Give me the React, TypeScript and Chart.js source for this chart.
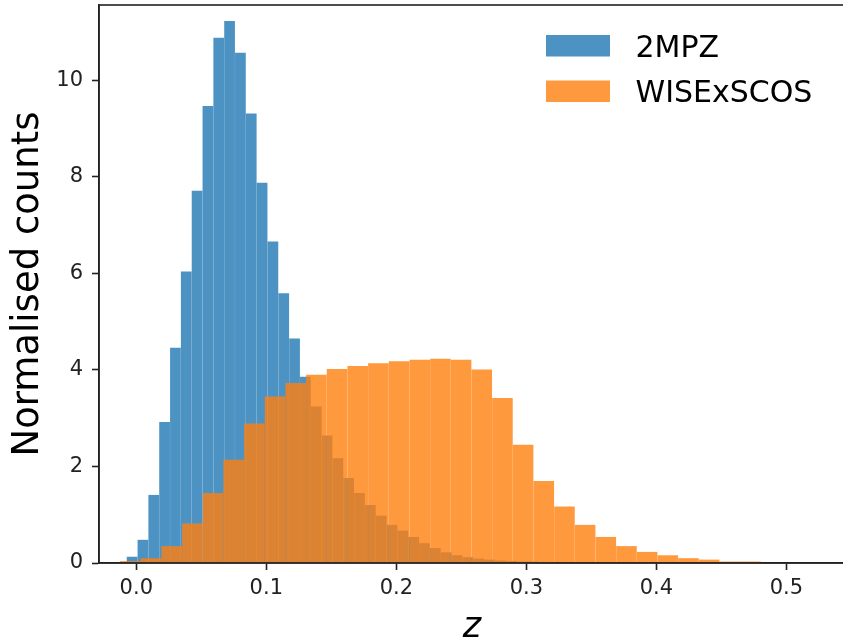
import React, { useEffect, useRef } from 'react';
import { Chart, registerables } from 'chart.js';

Chart.register(...registerables);

// ---- data ----
const SERIES_LABELS = ['2MPZ', 'WISExSCOS'];

// 2MPZ histogram: bin centres (z) and normalised counts
const MPZ_CENTERS = [
  -0.003235, 0.005095, 0.013425, 0.021755, 0.030085, 0.038415, 0.046745, 0.055075,
  0.063405, 0.071735, 0.080065, 0.088395, 0.096725, 0.105055, 0.113385, 0.121715,
  0.130045, 0.138375, 0.146705, 0.155035, 0.163365, 0.171695, 0.180025, 0.188355,
  0.196685, 0.205015, 0.213345, 0.221675, 0.230005, 0.238335, 0.246665, 0.254995,
  0.263325, 0.271655, 0.279985, 0.288315, 0.296645, 0.304975, 0.313305,
];
const MPZ_VALUES = [
  0.13, 0.48, 1.41, 2.92, 4.46, 6.04, 7.71, 9.47,
  10.88, 11.23, 10.57, 9.31, 7.88, 6.66, 5.59, 4.65,
  3.86, 3.24, 2.64, 2.17, 1.76, 1.45, 1.2, 0.98,
  0.79, 0.67, 0.54, 0.41, 0.31, 0.22, 0.16, 0.12,
  0.09, 0.07, 0.05, 0.04, 0.03, 0.03, 0.02,
];

// WISExSCOS histogram: bin centres (z) and normalised counts
const WXS_CENTERS = [
  -0.00459, 0.01131, 0.02721, 0.04311, 0.05901, 0.07491, 0.09081, 0.10671,
  0.12261, 0.13851, 0.15441, 0.17031, 0.18621, 0.20211, 0.21801, 0.23391,
  0.24981, 0.26571, 0.28161, 0.29751, 0.31341, 0.32931, 0.34521, 0.36111,
  0.37701, 0.39291, 0.40881, 0.42471, 0.44061, 0.45651, 0.47241,
];
const WXS_VALUES = [
  0.04, 0.1, 0.35, 0.82, 1.45, 2.14, 2.89, 3.45,
  3.73, 3.9, 4.02, 4.08, 4.14, 4.18, 4.21, 4.23,
  4.21, 4.01, 3.42, 2.45, 1.7, 1.17, 0.79, 0.54,
  0.35, 0.23, 0.16, 0.1, 0.07, 0.03, 0.03,
];

const X_TICKS = [0, 0.1, 0.2, 0.3, 0.4, 0.5];
const Y_TICKS = [0, 2, 4, 6, 8, 10];
const X_MIN = -0.0287;
const X_MAX = 0.5451;
const Y_MIN = 0;
const Y_MAX = 11.56;

const X_TITLE = 'z';
const Y_TITLE = 'Normalised counts';

const COLORS = ['rgba(31,119,180,0.8)', 'rgba(255,127,14,0.8)'];
const FONT = '"DejaVu Sans", Verdana, sans-serif';
const AXIS_COLOR = '#222';

const framePlugin = {
  id: 'frame',
  afterDraw(chart: any) {
    const { ctx, chartArea } = chart;
    ctx.save();
    ctx.strokeStyle = AXIS_COLOR;
    ctx.lineWidth = 1.6;
    ctx.strokeRect(chartArea.left, chartArea.top, chartArea.right - chartArea.left, chartArea.bottom - chartArea.top);
    ctx.restore();
  },
};

const legendPlugin = {
  id: 'histLegend',
  afterDraw(chart: any) {
    const { ctx, chartArea } = chart;
    const boxX = chartArea.left + 447;
    const boxW = 64;
    const boxH = 21.5;
    ctx.save();
    chart.data.datasets.forEach((ds: any, i: number) => {
      const top = chartArea.top + 30 + i * 45.5;
      ctx.fillStyle = ds.backgroundColor;
      ctx.fillRect(boxX, top, boxW, boxH);
      ctx.fillStyle = '#000';
      ctx.font = `30px ${FONT}`;
      ctx.textBaseline = 'alphabetic';
      ctx.textAlign = 'left';
      ctx.fillText(ds.label, boxX + 89.5, top + 21.7);
    });
    ctx.restore();
  },
};

const zeroPad = (scale: any) => {
  scale.paddingTop = 0;
  scale.paddingBottom = 0;
  scale.paddingLeft = 0;
  scale.paddingRight = 0;
};

export default function App() {
  const canvasRef = useRef<HTMLCanvasElement | null>(null);

  useEffect(() => {
    const canvas = canvasRef.current;
    if (!canvas) return;
    const chart = new Chart(canvas, {
      type: 'bar',
      data: {
        datasets: [
          {
            label: SERIES_LABELS[0],
            data: MPZ_CENTERS.map((x, i) => ({ x, y: MPZ_VALUES[i] })),
            backgroundColor: COLORS[0],
            borderWidth: 0,
            barPercentage: 0.99,
            categoryPercentage: 1,
            grouped: false,
            xAxisID: 'x',
            yAxisID: 'y',
            order: 1,
          },
          {
            label: SERIES_LABELS[1],
            data: WXS_CENTERS.map((x, i) => ({ x, y: WXS_VALUES[i] })),
            backgroundColor: COLORS[1],
            borderWidth: 0,
            barPercentage: 0.995,
            categoryPercentage: 1,
            grouped: false,
            xAxisID: 'x2',
            yAxisID: 'y',
            order: 0,
          },
        ],
      },
      options: {
        responsive: false,
        animation: false,
        devicePixelRatio: 1,
        layout: { padding: { top: 5, right: 5, left: 0, bottom: 0 } },
        plugins: {
          legend: { display: false },
          tooltip: { enabled: false },
        },
        scales: {
          x: {
            type: 'linear',
            position: 'bottom',
            min: X_MIN,
            max: X_MAX,
            offset: false,
            afterBuildTicks: (scale: any) => {
              scale.ticks = X_TICKS.map((v) => ({ value: v }));
            },
            afterFit: (scale: any) => {
              scale.height = 76;
              zeroPad(scale);
            },
            grid: {
              display: true,
              drawOnChartArea: false,
              drawTicks: true,
              tickLength: 7,
              tickWidth: 1.6,
              tickColor: AXIS_COLOR,
              offset: false,
            },
            border: { display: true, color: AXIS_COLOR, width: 1.6 },
            ticks: {
              autoSkip: false,
              maxRotation: 0,
              padding: 6,
              color: '#222',
              font: { family: FONT, size: 21 },
              callback: (v: any) => Number(v).toFixed(1),
            },
            title: {
              display: true,
              text: X_TITLE,
              color: '#000',
              font: { family: FONT, size: 35, style: 'italic', lineHeight: 0.6 },
              padding: { top: 0, bottom: 1 },
            },
          },
          x2: {
            type: 'linear',
            display: false,
            min: X_MIN,
            max: X_MAX,
            offset: false,
            grid: { offset: false },
            afterFit: zeroPad,
          },
          y: {
            type: 'linear',
            position: 'left',
            min: Y_MIN,
            max: Y_MAX,
            afterBuildTicks: (scale: any) => {
              scale.ticks = Y_TICKS.map((v) => ({ value: v }));
            },
            afterFit: (scale: any) => {
              scale.width = 99;
              zeroPad(scale);
            },
            grid: {
              display: true,
              drawOnChartArea: false,
              drawTicks: true,
              tickLength: 7,
              tickWidth: 1.6,
              tickColor: AXIS_COLOR,
            },
            border: { display: true, color: AXIS_COLOR, width: 1.6 },
            ticks: {
              padding: 9,
              color: '#222',
              font: { family: FONT, size: 21 },
              callback: (v: any) => String(v),
            },
            title: {
              display: true,
              text: Y_TITLE,
              color: '#000',
              font: { family: FONT, size: 37 },
              padding: { top: 6, bottom: 0 },
            },
          },
        },
      },
      plugins: [framePlugin, legendPlugin],
    } as any);
    return () => chart.destroy();
  }, []);

  return (
    <div style={{ position: 'fixed', left: 0, top: 0, width: 843, height: 639, overflow: 'hidden', background: '#fff' }}>
      <canvas ref={canvasRef} width={850} height={639} style={{ display: 'block' }} />
    </div>
  );
}
